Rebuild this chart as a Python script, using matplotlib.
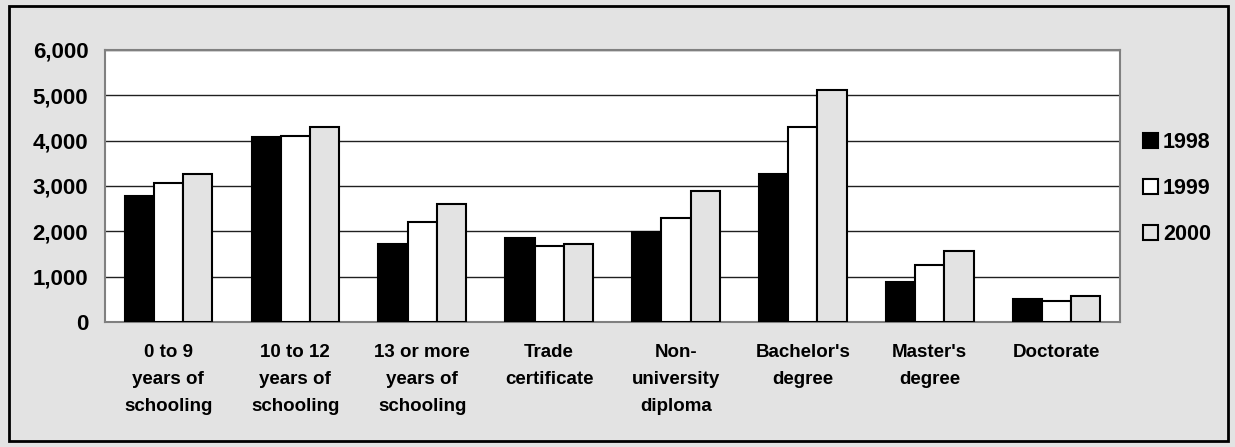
import matplotlib.pyplot as plt
import numpy as np

# education level categories
categories = ["0 to 9\nyears of\nschooling", "10 to 12\nyears of\nschooling",
              "13 or more\nyears of\nschooling", "Trade\ncertificate",
              "Non-\nuniversity\ndiploma", "Bachelor's\ndegree",
              "Master's\ndegree", "Doctorate"]
years = ["1998", "1999", "2000"]
v1998 = [2780, 4070, 1730, 1850, 1980, 3270, 890, 500]
v1999 = [3070, 4110, 2200, 1680, 2300, 4300, 1260, 470]
v2000 = [3270, 4300, 2600, 1720, 2900, 5120, 1560, 575]

bg = "#e3e3e3"
fig = plt.figure(figsize=(12.35, 4.47), dpi=100, facecolor=bg)
ax = fig.add_axes([0.085, 0.2796, 0.822, 0.6086])
ax.set_facecolor("white")

x = np.arange(len(categories))
w = 0.23
cols = ["black", "white", bg]
for k, vals in enumerate([v1998, v1999, v2000]):
    ax.bar(x + (k - 1) * w, vals, w, color=cols[k], edgecolor="black",
           linewidth=1.5, label=years[k], zorder=3)

ax.set_ylim(0, 6000)
ax.set_xlim(-0.5, len(categories) - 0.5)
ax.set_yticks(range(0, 6001, 1000))
ax.set_yticklabels([f"{v:,}" for v in range(0, 6001, 1000)],
                   fontsize=16, fontweight="bold", family="Liberation Sans")
ax.yaxis.grid(True, color="#202020", linewidth=1, zorder=0)
ax.set_xticks(x)
ax.set_xticklabels(categories, fontsize=13.5, fontweight="heavy",
                   family="Liberation Sans", linespacing=1.75)
ax.tick_params(axis="both", length=0)
ax.tick_params(axis="y", pad=12)
ax.tick_params(axis="x", pad=16)
for s in ax.spines.values():
    s.set_color("#808080")
    s.set_linewidth(1.5)

leg = ax.legend(loc="upper left", bbox_to_anchor=(1.003, 0.768), frameon=False,
                prop={"family": "Liberation Sans", "weight": "bold", "size": 15.5},
                handlelength=0.7, handleheight=0.7, handletextpad=0.25,
                labelspacing=1.15)

# outer border
fig.patches.append(plt.Rectangle((0.007, 0.013), 0.987, 0.974,
                                 transform=fig.transFigure, fill=False,
                                 edgecolor="black", linewidth=2))

fig.savefig("out.png", dpi=100, facecolor=bg)
